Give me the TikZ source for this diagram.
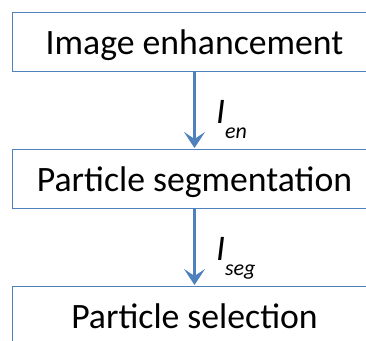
\documentclass[tikz,border=0pt]{standalone}
\usepackage{fontspec}
\setmainfont{Carlito}
\usepackage{xcolor}
\definecolor{boxblue}{HTML}{4F81BD}
\usetikzlibrary{positioning,arrows.meta}

\begin{document}
\begin{tikzpicture}[x=1pt, y=1pt, node distance=77pt,
    flow block/.style={rectangle, draw=boxblue, line width=1pt, fill=white,
        minimum width=365pt, minimum height=59pt, inner sep=0pt,
        text height=32pt, text depth=7pt,
        font=\fontsize{35.7}{42}\selectfont},
    flow arrow/.style={-{Stealth[length=16pt, width=21pt, inset=7pt]}, draw=boxblue, line width=3.2pt, shorten >=0.5pt},
    flow label/.style={right, anchor=north west, xshift=20pt, yshift=11.5pt, inner sep=0pt,
        font=\fontsize{36}{42}\selectfont\itshape}]

    \clip (0,0) rectangle (366,-340);

    \node [flow block] (enh) at (194.5,-41.5) {Image enhancement};
    \node [flow block, below=of enh] (seg) {Particle segmentation};
    \node [flow block, below=of seg] (sel) {Particle selection};

    \draw [flow arrow] (enh) -- node [flow label] {I\raisebox{-15pt}{\fontsize{22}{26}\selectfont en}} (seg);
    \draw [flow arrow] (seg) -- node [flow label] {I\raisebox{-15pt}{\fontsize{22}{26}\selectfont seg}} (sel);

\end{tikzpicture}
\end{document}
